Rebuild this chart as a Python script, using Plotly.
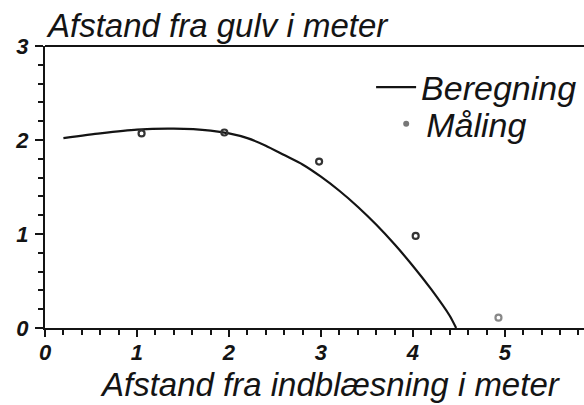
import plotly.graph_objects as go

# Calculated curve (Beregning)
calc_x = [0.2, 0.6, 1.0, 1.4, 1.8, 2.0, 2.2, 2.4, 2.6, 2.8, 3.0, 3.2, 3.4, 3.6, 3.8, 4.0, 4.2, 4.4, 4.47]
calc_y = [2.02, 2.07, 2.11, 2.12, 2.10, 2.07, 2.02, 1.94, 1.84, 1.74, 1.61, 1.46, 1.29, 1.10, 0.89, 0.66, 0.41, 0.13, 0.0]

# Measurements (Måling)
meas_x = [1.05, 1.95, 2.98, 4.03, 4.93]
meas_y = [2.07, 2.08, 1.77, 0.98, 0.11]

title_text = "Afstand fra gulv i meter"
xaxis_title = "Afstand fra indblæsning i meter"
FONT = "Liberation Sans, Arial, sans-serif"
INK = "#141414"

fig = go.Figure()
fig.add_trace(go.Scatter(
    x=calc_x, y=calc_y, mode="lines", name="Beregning", legend="legend",
    line=dict(color=INK, width=2.2, shape="spline", smoothing=0.6),
))
fig.add_trace(go.Scatter(
    x=meas_x, y=meas_y, mode="markers", name="Måling", showlegend=False,
    marker=dict(symbol="circle-open", size=6, color=["#333"] * 4 + ["#888"],
                line=dict(width=2.2)),
))
# legend entry for the measurements (grey dot as in the key)
fig.add_trace(go.Scatter(
    x=[None], y=[None], mode="markers", name="Måling", legend="legend2",
    marker=dict(symbol="circle", size=6, color="#777"),
))

leg_common = dict(xanchor="left", yanchor="middle", bgcolor="rgba(0,0,0,0)",
                  font=dict(size=34, style="italic", color=INK, family=FONT),
                  borderwidth=0)
fig.update_layout(
    width=584, height=405,
    margin=dict(l=45, r=0, t=46, b=77),
    paper_bgcolor="white", plot_bgcolor="white",
    font=dict(family=FONT, color=INK, style="italic"),
    showlegend=True,
    legend=dict(x=0.605, y=0.853, itemwidth=40, **leg_common),
    legend2=dict(x=0.633, y=0.723, itemwidth=30, **leg_common),
    annotations=[
        dict(text=title_text, xref="paper", yref="paper", x=-0.002, y=1.074,
             xanchor="left", yanchor="middle", showarrow=False,
             font=dict(size=33, style="italic", color=INK)),
        dict(text=xaxis_title, xref="paper", yref="paper", x=0.53, y=-0.2,
             xanchor="center", yanchor="middle", showarrow=False,
             font=dict(size=33, style="italic", color=INK)),
    ],
)
fig.update_xaxes(
    range=[0, 5.86], tickvals=[0, 1, 2, 3, 4, 5], ticktext=["0", "1", "2", "3", "4", "5"],
    showgrid=False, zeroline=False, showline=True, linecolor=INK, linewidth=2,
    ticks="outside", ticklen=7, tickwidth=2, tickcolor=INK,
    minor=dict(ticks="outside", ticklen=5, tickwidth=1.5, dtick=0.2, tickcolor=INK),
    tickfont=dict(size=22, weight="bold", style="italic", color=INK),
    ticklabelstandoff=-3,
    automargin=False,
)
fig.update_yaxes(
    range=[0, 3], tickvals=[0, 1, 2, 3], ticktext=["0", "1", "2", "3"],
    showgrid=False, zeroline=False, showline=True, linecolor=INK, linewidth=2,
    ticks="outside", ticklen=8, tickwidth=2, tickcolor=INK,
    minor=dict(ticks="outside", ticklen=5, tickwidth=1.5, dtick=0.2, tickcolor=INK),
    tickfont=dict(size=22, weight="bold", style="italic", color=INK),
    ticklabelstandoff=2,
    automargin=False,
)
# top border line
fig.add_shape(type="line", xref="paper", yref="paper", x0=0, x1=1, y0=1, y1=1,
              line=dict(color=INK, width=2))

fig.write_html("out.html", config={"displayModeBar": False},
               post_script="document.body.style.margin='0px';")
